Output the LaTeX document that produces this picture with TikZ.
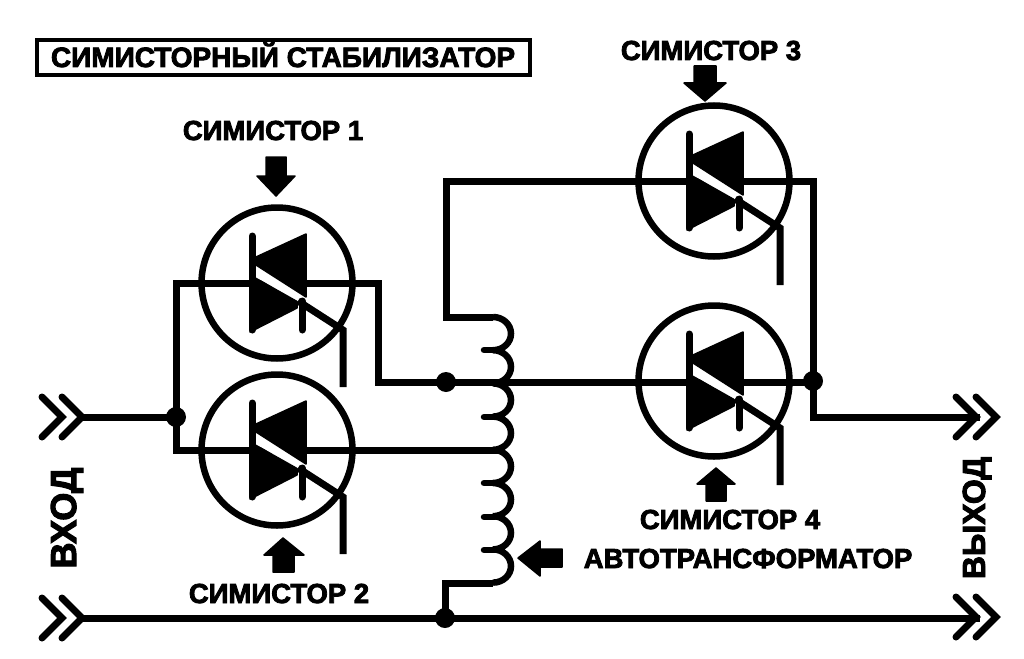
\documentclass[tikz,border=0pt]{standalone}
\usepackage{fontspec}
\setmainfont{Liberation Sans}
\newfontfamily\heavy{Liberation Sans Bold}[FakeBold=3]
\usetikzlibrary{calc}
\tikzset{x=1pt,y=-1pt,
 wire/.style={line width=7pt,line cap=butt,line join=miter},
 dot/.style={circle,fill=black,inner sep=0,minimum size=20pt},
 triaccircle/.style={circle,draw,line width=6.5pt,inner sep=0,minimum size=151pt},
 chev/.style={line width=7pt,line cap=round,line join=miter},
 lbl/.style={font=\heavy\fontsize{27.5}{28}\selectfont,inner sep=0,text height=20pt,text depth=0pt},
 blk/.style={fill=black,draw=black,line width=1.5pt,line join=round}}
\newcommand{\triacbody}[2]{% x, y
 \begin{scope}[shift={(#1,#2)}]
  \fill[white] (-21.5,-19) -- (24,11) -- (21,19) -- (-21.5,-6) -- cycle;
  \draw[line width=7pt,line cap=round] (-25,-47) -- (-25,47);
  \draw[line width=7pt,line cap=round] (25,18) -- (25,47);
  \fill[blk] (29,-49) -- (-21,-26) -- (-21,-18) -- (29,14) -- cycle;
  \fill[blk] (-27,-8) -- (20,18.5) -- (20,25) -- (-27,49) -- cycle;
  \draw[line width=7pt,line join=miter] (21,18) -- (66,47) -- (66,104);
 \end{scope}}
\newcommand{\dchev}[2]{%
 \draw[chev] (#1-20,#2-20) -- (#1,#2) -- (#1-20,#2+20);
 \draw[chev] (#1,#2-20) -- (#1+20,#2) -- (#1,#2+20);}
\begin{document}
\begin{tikzpicture}
\useasboundingbox (0,0) rectangle (1024,658);
\fill[white] (0,0) rectangle (1024,658);
% coordinates
\coordinate (inL) at (82,417);
\coordinate (inJ) at (176,417);
\coordinate (retL) at (82,618);
\coordinate (retR) at (980,618);
\coordinate (outR) at (980,417);
\coordinate (c1) at (378,283);
\coordinate (tl) at (176,283);
\coordinate (bl) at (176,450);
\coordinate (tap1) at (446,382);
\coordinate (tap3) at (446,181);
\coordinate (j4) at (813,381);
% triac circles
\node[triaccircle] (t1) at (277,283) {};
\node[triaccircle] (t2) at (277,450) {};
\node[triaccircle] (t3) at (714,181) {};
\node[triaccircle] (t4) at (714,381) {};
% wires
\draw[wire] (t1.center) -- (tl) -- (bl) -- (t2.center);
\draw[wire] (t1.center) -- (c1) |- (tap1) -- (tap1 -| j4);
\draw[wire] (inL) -- (inJ);
\draw[wire] (t2.center) -- (500,450);
\draw[wire] (t3.center) -- (tap3) -- (446,317) -- (493,317);
\draw[wire] (t3.center) -- (813,181) -- (813,417) -- (outR);
\draw[wire] (retL) -- (retR);
\draw[wire] (493,583) -- (445,583) -- (445,618);
% triac bodies
\triacbody{277}{283}
\triacbody{277}{450}
\triacbody{714}{181}
\triacbody{714}{381}
% coil
\draw[line width=6.5pt] (493,317) arc[start angle=-90,end angle=90,x radius=18,y radius=16.6]
 arc[start angle=-90,end angle=90,x radius=18,y radius=16.6]
 arc[start angle=-90,end angle=90,x radius=18,y radius=16.6]
 arc[start angle=-90,end angle=90,x radius=18,y radius=16.6]
 arc[start angle=-90,end angle=90,x radius=18,y radius=16.6]
 arc[start angle=-90,end angle=90,x radius=18,y radius=16.6]
 arc[start angle=-90,end angle=90,x radius=18,y radius=16.6]
 arc[start angle=-90,end angle=90,x radius=18,y radius=16.6];
\foreach \yy in {350,417,483,517,550} \draw[line width=6.5pt,line cap=round] (484,\yy) -- (495,\yy);
% dots
\node[dot] (d1) at (inJ) {};
\node[dot] (d2) at (tap1) {};
\node[dot] (d3) at (j4) {};
\node[dot] (d4) at (445,618) {};
% chevrons
\dchev{62}{417}
\dchev{62}{618}
\dchev{976}{417}
\dchev{976}{617}
% arrows
\fill[blk] (266,157) -- (286,157) -- (286,176) -- (295,176) -- (276,196) -- (257,176) -- (266,176) -- cycle;
\fill[blk] (273,572) -- (294,572) -- (294,555) -- (304,555) -- (283,538) -- (264,555) -- (273,555) -- cycle;
\fill[blk] (694,66) -- (716,66) -- (716,83) -- (726,83) -- (705,101) -- (684,83) -- (694,83) -- cycle;
\fill[blk] (706,501) -- (726,501) -- (726,484) -- (735,484) -- (716,468) -- (697,484) -- (706,484) -- cycle;
\fill[blk] (562,549) -- (562,567) -- (540,567) -- (540,576) -- (518,558) -- (540,541) -- (540,549) -- cycle;
% box & labels
\draw[line width=4pt] (37,40) rectangle (530,75);
\node[lbl,font=\heavy\fontsize{28}{28}\selectfont] (title) at (283,57) {СИМИСТОРНЫЙ СТАБИЛИЗАТОР};
\node[lbl] (l1) at (273,130) {СИМИСТОР 1};
\node[lbl] (l2) at (279,593) {СИМИСТОР 2};
\node[lbl] (l3) at (711,50) {СИМИСТОР 3};
\node[lbl] (l4) at (730,519) {СИМИСТОР 4};
\node[lbl] (l5) at (748,558) {АВТОТРАНСФОРМАТОР};
\node[lbl,font=\heavy\fontsize{36}{36}\selectfont,rotate=90] (l6) at (66,518) {ВХОД};
\node[lbl,font=\heavy\fontsize{32}{32}\selectfont,rotate=90] (l7) at (975,518) {ВЫХОД};
\end{tikzpicture}
\end{document}
